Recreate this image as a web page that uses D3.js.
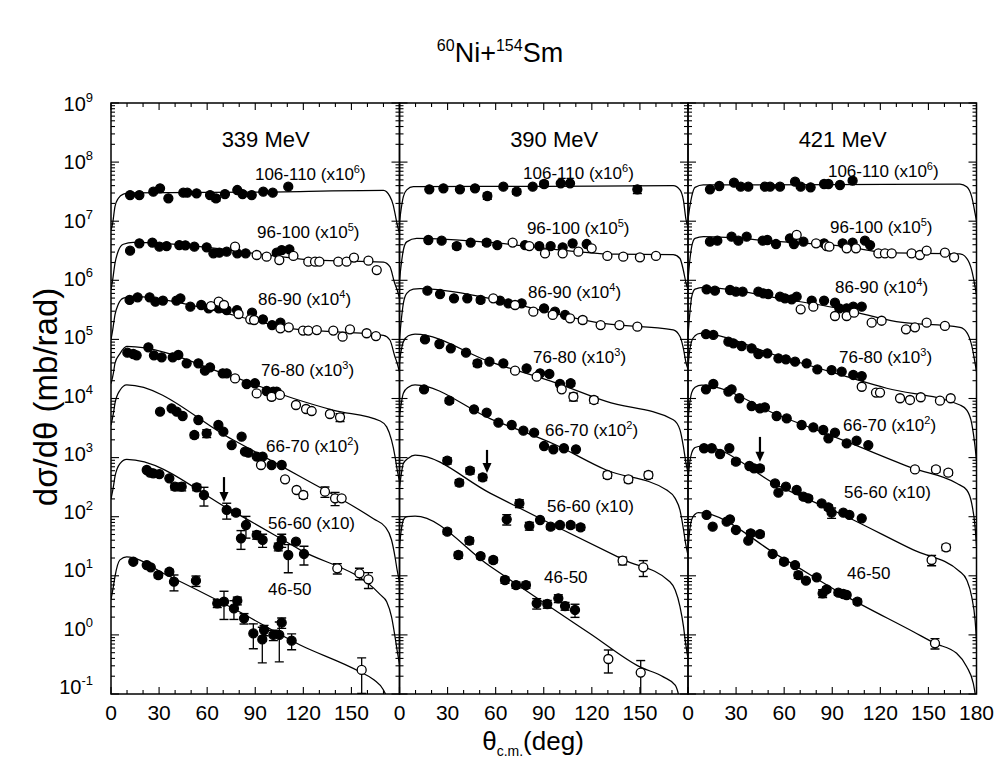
<!DOCTYPE html>
<html><head><meta charset="utf-8">
<script src="https://cdn.jsdelivr.net/npm/d3@7"></script>
<style>
body{margin:0;background:#fff;}
text{font-family:"Liberation Sans",Arial,Helvetica,sans-serif;fill:#000;}
</style></head><body>
<svg id="chart" width="995" height="762"></svg>
<script>
// ---------------- DATA ----------------
const energiesMeV = [339, 390, 421];
const windows = ["106-110","96-100","86-90","76-80","66-70","56-60","46-50"];
const factorExp = [6,5,4,3,2,1,0];
const xTickLabels = [0,30,60,90,120,150,180];
const yDecades = [-1,0,1,2,3,4,5,6,7,8,9];

// points: [theta_cm (deg), dsigma/dtheta (mb/rad, unscaled), relative error (optional)]
// ---- 339 MeV ----
const f339_106 = [[11.9,27.7],[17.7,27.7],[26.4,31.6],[30.6,36],[35.8,24.4],[45.1,30.4],[47.6,30.4],[53.4,29.6],[61.8,27.7],[65.5,24.4,.1],[71.1,28.8],[78.8,33.7],[82.1,28.8],[87.8,27.7],[95,31.6],[100.9,30.4],[110.6,38.4]];
const o339_106 = [];
const f339_96 = [[11.9,31.7],[17.7,42.3],[25.8,43.4],[30.2,37.1],[34.7,38],[42.6,39.5],[46.4,39.1],[52,37.1],[59.7,36.1],[63.9,28.6],[67.6,29.3],[72.2,30.5],[78.8,28.6],[84,28.6],[103.4,29.3],[106.5,32.5],[111.3,33.4]];
const o339_96 = [[77.4,37.1],[90.9,26.8],[97.1,25.1],[105,22],[113.8,25.8],[123.1,20.7],[127.3,20.7],[130,20.7],[141.8,20.7],[147,20.7],[151.6,24.2],[160.6,21.5],[165.8,14.9]];
const f339_86 = [[11.6,46.5],[16.6,51.5],[24.1,51.5],[27.7,43.4],[32.4,45.3],[40.8,45.3],[43.3,49.5],[49.5,35.8],[56.3,38.2],[60.9,33.6],[67.2,33.6],[72.2,31.4],[78.6,31.4],[88,28.3],[94.8,21.9],[100.5,17.5],[105.7,19.2]];
const o339_86 = [[62.4,36.7],[67.2,43.4],[70.5,38.2],[79.6,26.9],[86.9,21.9],[89.3,21.3],[105.7,15.4],[110.9,16],[119.8,14.1],[123.1,14.1],[128.4,14.4],[138.7,14.1],[144.5,11.1],[149.1,14.8],[159.5,12.7],[165.3,11.4]];
const f339_76 = [[10.2,59.6],[13.9,56.6],[16,53.7],[23.3,73.5],[26.8,53.7],[31.6,49.8],[38.5,49.8],[42,54.5],[47.2,39.4],[54.5,39.4],[58.6,29.6],[61.8,33.7],[69.7,26.7],[72.2,26.7],[84.6,17.6],[89.8,18.1],[97.1,13.4],[101.3,13.1],[103.4,13.1]];
const o339_76 = [[77.4,21.9],[90.9,12.2],[100.2,10.7,.1],[105.4,11.5],[115.4,7.76],[121.7,6.64],[125.2,6.14],[136.6,5.47],[142.9,4.80,.15]];
const f339_66 = [[30.6,59.8],[37.8,68.2],[41,59.8],[44.7,50.6],[52,24.1,.1],[54.5,43.3],[59.7,25.7,.15],[67,35.6],[70.1,27.5],[75.3,16.3],[81.5,22.6],[83.6,12.6],[85.7,12.1],[90.9,10.4],[94.6,10.4],[100.2,7.5],[106.5,7.5]];
const o339_66 = [[93.6,7.5],[108.6,4.29],[115.8,2.83],[120,2.33,.12],[133.5,2.65,.2],[139.8,2.05,.25],[143.9,2.05]];
const f339_56 = [[22.3,61.7],[24.3,55.6],[26.4,54.2],[30.2,52.7],[36.4,44.6],[39.9,32.2,.12],[44.1,32.2,.15],[53.5,31.4,.12],[58,23.3,.35],[72.2,13,.3],[78,11.7,.1],[84.2,7.23,.4],[81.1,4.31,.35],[90.9,4.9,.15],[94.6,4.04,.25],[104.4,3.11,.15],[106.5,4.04,.25],[110.6,2.25,.5],[115.4,3.78],[120.4,2.34,.35]];
const o339_56 = [[141.2,1.34,.2],[155,1.10,.22],[160.6,0.871,.3]];
const f339_46 = [[13.9,17.3],[22.3,15.2],[24.8,13.9],[29.5,10.3,.1],[36.4,11.7,.1],[39.3,7.94,.3],[53,8.26,.2],[66.3,3.42,.15],[70.5,3.65,.5],[76.7,2.81,.35],[78.8,3.79,.15],[83,1.91,.2],[88.8,1.06,.45],[94.4,0.84,.6],[95.5,1.21,.2],[101.3,1.0,.2],[105,1.0,.65],[106.5,1.61,.2],[112.7,0.80,.3]];
const o339_46 = [[156.4,0.255,.6]];
// ---- 390 MeV ----
const f390_106 = [[18.6,34.6],[27.4,36],[37.7,34.6],[47.1,36],[54.8,26.7,.12],[64.8,38.4],[73.1,31.6,.1],[83.1,38.4],[90.2,42.6,.1],[100.6,43.8],[106.4,43.8],[148.4,34.6,.15]];
const o390_106 = [];
const f390_96 = [[18,48.1],[26.3,46.9],[35.7,38,.1],[44.4,43.4],[54.4,43.4,.1],[61,39.5],[78.3,39.5],[87.2,38],[94.3,38],[101.8,36.1],[108,42.3],[116.8,41.1]];
const o390_96 = [[70.6,43.4],[81,38],[90.8,28.6],[101.8,28.6],[111.6,30.5],[119.9,34.8],[129.7,25.8],[139.6,25.1],[150,24.5],[160,25.8]];
const f390_86 = [[17.4,66.8],[25.3,58.6],[34,49.5],[42.3,49.5],[50.6,46.5,.1],[62.7,45.3],[67.9,40.7],[76.2,40.7],[90.2,33.6],[97,29.4],[103.3,25.9]];
const o390_86 = [[58.5,49.5],[72.1,38.2],[83.5,29.4],[95.6,25.9],[106.4,22.7],[114.3,21.3,.1],[125.5,17.5],[137.2,17.5],[148.4,16.4]];
const f390_76 = [[15.9,100],[24.9,83.6],[32,70.6],[41.5,59.6],[48.6,39.4,.12],[56.1,42],[64.8,39.4],[79.3,32.4],[87.7,26.7],[93.5,26],[100.1,17.6],[106.8,18.1,.1]];
const o390_76 = [[72.1,29.6],[85.6,23.4],[101.2,14.3],[108.5,10.7,.15],[121.3,9.44,.12]];
const f390_66 = [[15.3,143],[31.1,91.8,.1],[46.5,65.6],[54.4,57.5],[61.7,39],[70,35.6],[77.3,28.6],[84,26.4],[90.2,15.7],[96,13.8],[102.6,14.4],[110.1,13.8]];
const o390_66 = [[129.7,5.08,.12],[142.8,4.29,.12],[155.3,5.08,.12]];
const f390_56 = [[29.8,88.7,.12],[37.3,37.7,.12],[44,60.1,.12],[51.9,46.3,.12],[74.8,16.8,.15],[66.9,9.02,.2],[81,6.97,.15],[87.7,8.79],[94.3,6.78,.1],[100.1,7.23,.1],[106.8,7.23,.1],[113,6.61,.1]];
const o390_56 = [[139.2,1.80,.15],[152.1,1.39,.3]];
const f390_46 = [[29.8,55.8,.1],[36.7,22.5,.12],[43.6,39.3,.12],[50.6,21.6,.1],[58.5,18.5,.1],[65.8,8.49,.12],[72.7,6.98,.12],[78.9,6.98,.12],[85.6,3.42,.2],[92.2,3.33,.15],[99.1,4.15,.15],[103.3,3.08,.15],[109.5,2.64,.25]];
const o390_46 = [[130.3,0.391,.42],[150.5,0.230,.6]];
// ---- 421 MeV ----
const f421_106 = [[13.7,34.6],[19.5,39.4],[28.7,44.9],[32.9,38.4],[37.6,38.4],[48,38.4],[51.2,38.4],[57.4,38.4],[66.8,46.7],[70.3,38.4],[76.5,37.4],[84.9,42.6],[87.6,42.6],[94.8,41],[102.7,48.5]];
const o421_106 = [];
const f421_96 = [[13.7,45.1],[18.3,46.9],[27.2,54.7],[31.4,46.9],[36.6,54.7],[46.6,46.9],[49.5,48.1],[54.9,41.1],[63.6,51.3],[66.1,41.1],[72,45.1],[84.9,42.3],[96.5,42.3],[102.7,43.4],[110.4,46.9],[113.6,39.5]];
const o421_96 = [[67.8,58.5],[79.9,42.3],[86.5,38],[88.2,37.1],[99,34.8],[104.8,34.8],[118.8,28.6],[122.9,28.6],[127.1,28.6],[139.5,28.6],[144.7,26.8],[148.9,31.7],[160.3,29.3],[166,24.5]];
const f421_86 = [[11.6,70.3],[16.8,66.8],[26.2,68.5],[29.9,64.3],[34.1,64.3],[43.9,64.3],[47,60.1],[50.1,58.6],[57.4,52.8],[60.5,49.5],[64.7,47.6],[67.8,52.8],[77.2,45.3],[84.9,45.3],[91.7,41.9],[94.4,33.6],[99,33.6],[103.1,35.8],[108.4,35.8]];
const o421_86 = [[70.3,32.3],[78.2,35.8],[91.7,24.9],[99,24.9],[103.6,28.3],[114.6,19.2],[120.8,20.7],[136,14.8],[141.6,16],[148.9,19.2],[160.3,16.9]];
const f421_76 = [[11.2,123],[15.8,119],[25.2,91.6],[28.3,85.7],[33.5,77.3],[39.7,70.6],[43.9,56.6],[49.5,58.1],[56.4,47.9],[61.1,46],[66.8,42],[74,39.4],[80.7,31.1],[89.6,30.3],[95.9,28.4],[103.1,25],[108.4,24]];
const o421_76 = [[108.4,15.8],[117.3,12.6],[119.8,12.6],[132.3,10.1],[138.5,9.44],[145.2,10.5],[157.2,9.18],[163.9,10.1]];
const f421_66 = [[11.2,143],[15.8,176],[25.2,131],[27.2,143],[32,101],[39.7,74.6],[44.9,68.2],[48,70.8],[55.3,50.6],[61.6,46.1],[70.9,35.6],[78.2,32.5],[84.4,29.3],[87.6,21.2],[91.7,26.4],[99,17.4],[105.2,19.3],[112.5,16.3]];
const o421_66 = [[141.6,6.32],[154.7,6.32,.1],[162.4,5.56,.1]];
const f421_56 = [[10,144],[14.8,144],[20,115],[25.8,144],[29.9,85.3,.1],[38.3,72.1],[41.2,65.8],[44.9,65.8,.1],[54.3,36.6],[61.1,32.2],[56.4,25.5],[67.8,28.3],[72,21.8,.1],[75.1,20.5,.1],[83.4,16.8],[87.6,14.4,.1],[89.6,11.7,.2],[96.9,11.7],[100.7,10.7],[108.4,9.38]];
const o421_56 = [[152,1.85,.2],[161,3.03,.12]];
const f421_46 = [[11.6,107],[15.4,67.8],[24.1,82.4],[26.2,90.2],[29.9,59.6],[37.6,39.3],[39.1,52.4,.1],[44.9,50.9,.1],[52.8,23.4],[59.9,17.3,.1],[66.8,15.2],[68.8,10.3,.12],[73.6,8.28],[80.3,9.42],[84,5.05,.15],[86.5,5.9,.1],[93.8,5.19,.1],[96.9,4.92,.1],[99,4.73],[105.7,3.65,.1]];
const o421_46 = [[154.1,0.72,.2]];

// theoretical curves: [theta_cm, dsigma/dtheta (unscaled)]
const fit339_106 = [[0,7.08],[1,9.12],[2.5,17.8],[4.6,24.5],[7.7,28.8],[12,30.2],[90,30.9],[170,33.1],[174,26.3],[176,19.1],[177.5,12.3],[178.5,8.91],[180,6.31]];
const fit339_96 = [[0,7.08],[1,10],[2.5,19.5],[4.6,31.6],[7.7,40.7],[13.9,43.7],[55.5,37.2],[97,26.9],[128,21.9],[170,20.4],[174,17.0],[177,8.91],[178.5,6.92],[180,5.01]];
const fit339_86 = [[0,10],[1,14.1],[2.5,26.3],[4.6,39.8],[7.7,50.1],[13.9,53.7],[55,35.5],[97,18.6],[110,15.5],[139,13.5],[170,11.7],[174,9.77],[177,5.25],[178.5,3.98],[180,2.82]];
const fit339_76 = [[0,17.8],[1.5,26.9],[2.5,39.8],[5.6,57.5],[9.8,75.9],[76,23.4],[114,10],[139,6.31],[168,4.17],[172,3.31],[175,2.0],[177.2,1.05],[178.5,0.631],[180,0.398]];
const fit339_66 = [[0,35.5],[1.5,56.2],[2.5,83.2],[5.6,138],[9.8,170],[76,20.0],[118,4.79],[164,0.912],[171,0.676],[175,0.407],[177.2,0.209],[178.5,0.126],[180,0.079]];
const fit339_56 = [[0,20.0],[1.5,32.4],[2.5,47.9],[5.6,79.4],[9.8,93.3],[76,12.3],[118,2.75],[168,0.479],[172,0.363],[175,0.204],[177.2,0.0933],[178.5,0.055],[180,0.0316]];
const fit339_46 = [[0,3.98],[1.5,6.61],[2.5,9.77],[5.6,18.6],[9.8,20.9],[35,10.2],[76,2.82],[118,0.676],[155,0.24],[164,0.174],[170,0.117],[172,0.0891],[175,0.0398]];
const fit390_106 = [[0,9.77],[1,15.8],[2.4,26.0],[4.5,33.9],[8.6,38.4],[90,38.9],[170.8,39.8],[175,33.9],[177.1,22.9],[178.8,10.5],[180,7.94]];
const fit390_96 = [[0,10],[1,17.8],[2.4,32.4],[4.5,44.7],[10.7,51.3],[56.5,43.7],[98,33.1],[135,27.6],[170.8,27.2],[175,23.4],[177.1,14.8],[178.8,8.91],[180,7.08]];
const fit390_86 = [[0,10.5],[1,20.0],[2.4,40.7],[4.5,60.3],[8.6,70.8],[12.8,72.4],[56.5,49.5],[98,26.9],[127,18.6],[170.8,14.5],[175,11.2],[177.1,7.08],[178.8,3.98],[180,3.16]];
const fit390_76 = [[0,41.7],[1,63.1],[2.4,91.2],[5.5,115],[9.7,123],[56.5,41.7],[98,18.2],[129,8.91],[170.8,4.37],[175,2.95],[177.1,1.55],[178.8,0.794],[180,0.562]];
const fit390_66 = [[0,50.1],[1,79.4],[2.4,123],[5.5,155],[9.7,170],[56.5,45.7],[98,16.2],[129,6.17],[166.7,2.82],[172,2.04],[175,1.29],[177.2,0.603],[178.5,0.355],[180,0.224]];
const fit390_56 = [[0,31.6],[1,50.1],[2.4,79.4],[5.5,97.7],[9.7,110],[56.5,25.1],[98,6.76],[140,1.86],[168.7,0.794],[172,0.575],[175,0.302],[177.2,0.138],[178.5,0.0724],[180,0.0398]];
const fit390_46 = [[0,31.6],[1,56.2],[2.5,89.1],[4.5,100],[9.7,102],[56.5,14.5],[98,2.51],[119,1.05],[150,0.288],[164.6,0.195],[172,0.141],[174,0.1],[176,0.05]];
const fit421_106 = [[0,10.5],[1,16.6],[2.3,26.0],[4.4,37.4],[9.6,41.0],[90,41.7],[169.7,42.6],[173.9,38.4],[177,26.0],[179.1,13.6],[180,10]];
const fit421_96 = [[0,10],[1,20.0],[2.3,37.2],[4.4,51.3],[9.6,54.7],[57.4,45.1],[99,37.1],[124,29.3],[169.7,27.9],[173.9,23.6],[177,14.9],[179.1,7.80],[180,5.62]];
const fit421_86 = [[0,11.2],[1,25.1],[2.3,52.5],[4.4,70.8],[9.6,75.9],[57.4,49.5],[99,31.4],[130,20.0],[169.7,16.0],[173.9,13.2],[177,7.94],[179.1,3.98],[180,2.82]];
const fit421_76 = [[0,34.7],[1,63.1],[2.3,93.3],[4.4,115],[7.5,126],[57.4,51.1],[99,23.4],[124,14.9],[169.7,7.76],[173.9,6.38],[177,3.80],[179.1,1.53],[180,0.891]];
const fit421_66 = [[0,41.7],[1,79.4],[2.3,126],[4.4,155],[8.5,169],[57.4,50.6],[99,18.6],[140.6,6.58],[167.6,3.67],[173.9,2.83],[177,1.68],[179.1,0.678],[180,0.316]];
const fit421_56 = [[0,39.8],[1,79.4],[2.3,120],[4.4,148],[8.5,157],[57.4,32.2],[99,10],[140.6,2.74],[169.7,1.17],[173.9,0.849],[177,0.444],[179.1,0.179],[180,0.0813]];
const fit421_46 = [[0,28.2],[1,56.2],[2.3,89.1],[4.4,110],[6.5,117],[57.4,21.1],[99,4.44],[140.6,1.13],[154.1,0.719],[167.6,0.488],[173.9,0.29],[178,0.151],[179.5,0.0891]];

// arrows (theta, from, to) in plotted units, one per energy (56-60 window)
const arrowMarks = [[70.5,468,178],[54.6,1349,550],[44.9,2239,851]];
// label anchors [theta, log10(plotted value)] per energy, per window
const labelAnchor = [
 [[89.8,7.697],[91.1,6.716],[91.7,5.582],[93.6,4.381],[96.7,3.095],[98.0,1.792],[98.0,0.670]],
 [[77.1,7.714],[79.5,6.783],[80.2,5.701],[83.3,4.601],[90.8,3.365],[92.0,2.079],[90.2,0.878]],
 [[87.3,7.748],[88.6,6.80],[91.7,5.785],[94.2,4.601],[96.7,3.45],[97.3,2.316],[99.2,0.946]]
];

// ---------------- TABLE ----------------
const fillTable = [
 [f339_106,f339_96,f339_86,f339_76,f339_66,f339_56,f339_46],
 [f390_106,f390_96,f390_86,f390_76,f390_66,f390_56,f390_46],
 [f421_106,f421_96,f421_86,f421_76,f421_66,f421_56,f421_46]];
const openTable = [
 [o339_106,o339_96,o339_86,o339_76,o339_66,o339_56,o339_46],
 [o390_106,o390_96,o390_86,o390_76,o390_66,o390_56,o390_46],
 [o421_106,o421_96,o421_86,o421_76,o421_66,o421_56,o421_46]];
const fitTable = [
 [fit339_106,fit339_96,fit339_86,fit339_76,fit339_66,fit339_56,fit339_46],
 [fit390_106,fit390_96,fit390_86,fit390_76,fit390_66,fit390_56,fit390_46],
 [fit421_106,fit421_96,fit421_86,fit421_76,fit421_66,fit421_56,fit421_46]];

// ---------------- LAYOUT ----------------
const W = 995, H = 762;
const PX0 = 111, PW = 288.5, TOP = 103, BOT = 694;
const svg = d3.select("#chart");
svg.append("rect").attr("width", W).attr("height", H).attr("fill", "#fff");

const xs = energiesMeV.map((e, i) => d3.scaleLinear().domain([0, 180]).range([PX0 + i * PW, PX0 + (i + 1) * PW]));
const y = d3.scaleLog().domain([1e-1, 1e9]).range([BOT, TOP]);
const yLab = d3.scaleLog().domain([1e-1, 1e9]).range([BOT - 7, TOP + 1]);

const minorY = [];
yDecades.slice(0, -1).forEach(e => { for (let m = 2; m <= 9; m++) minorY.push(m * Math.pow(10, e)); });
const majorY = yDecades.map(e => Math.pow(10, e));

energiesMeV.forEach((E, i) => {
  const x = xs[i];
  const g = svg.append("g");
  const cid = "clip" + i;
  svg.append("clipPath").attr("id", cid).append("rect")
    .attr("x", x(0)).attr("y", TOP).attr("width", PW).attr("height", BOT - TOP);
  const plot = g.append("g").attr("clip-path", `url(#${cid})`);

  windows.forEach((w, j) => {
    const f = Math.pow(10, factorExp[j]);
    const line = d3.line().x(d => x(d[0])).y(d => y(d[1] * f)).curve(d3.curveMonotoneX);
    plot.append("path").datum(fitTable[i][j]).attr("d", line)
      .attr("fill", "none").attr("stroke", "#000").attr("stroke-width", 1.25);

    const pts = fillTable[i][j].map(d => ({d, open: false})).concat(openTable[i][j].map(d => ({d, open: true})));
    pts.filter(p => p.d[2]).forEach(p => {
      const [t, v, e] = p.d;
      const cx = x(t);
      const yh = y(v * f * (1 + e)), yl = y(Math.max(v * f * (1 - e), 1e-2));
      plot.append("line").attr("x1", cx).attr("x2", cx).attr("y1", yh).attr("y2", yl)
        .attr("stroke", "#000").attr("stroke-width", 1.3);
      [yh, yl].forEach(yy => plot.append("line").attr("x1", cx - 4.5).attr("x2", cx + 4.5)
        .attr("y1", yy).attr("y2", yy).attr("stroke", "#000").attr("stroke-width", 1.4));
    });
    plot.selectAll(null).data(pts).enter().append("circle")
      .attr("cx", p => x(p.d[0])).attr("cy", p => y(p.d[1] * f)).attr("r", 4.5)
      .attr("fill", p => p.open ? "#fff" : "#000").attr("stroke", "#000").attr("stroke-width", 1.3);

    const [lt, lv] = labelAnchor[i][j];
    const txt = g.append("text").attr("x", x(lt)).attr("y", y(Math.pow(10, lv))).attr("font-size", 17);
    txt.append("tspan").text(w);
    if (factorExp[j] >= 1) {
      txt.append("tspan").text(" (x10");
      if (factorExp[j] > 1) {
        txt.append("tspan").attr("font-size", 11).attr("dy", -7).text(factorExp[j]);
        txt.append("tspan").attr("dy", 7).text(")");
      } else {
        txt.append("tspan").text(")");
      }
    }
  });

  const [at, a0, a1] = arrowMarks[i];
  const ax = x(at), ay0 = y(a0), ay1 = y(a1);
  g.append("line").attr("x1", ax).attr("x2", ax).attr("y1", ay0).attr("y2", ay1 - 8)
    .attr("stroke", "#000").attr("stroke-width", 2.2);
  g.append("path").attr("d", `M${ax - 4.5},${ay1 - 10}L${ax + 4.5},${ay1 - 10}L${ax},${ay1}Z`).attr("fill", "#000");

  g.append("text").attr("x", x(96.5)).attr("y", 147).attr("text-anchor", "middle")
    .attr("font-size", 22).text(E + " MeV");

  g.append("rect").attr("x", x(0)).attr("y", TOP).attr("width", PW).attr("height", BOT - TOP)
    .attr("fill", "none").attr("stroke", "#000").attr("stroke-width", 1.5);
  const tk = g.append("g").attr("stroke", "#000").attr("stroke-width", 1.1);
  d3.range(0, 181, 10).forEach(t => {
    const L = t % 30 === 0 ? 7 : 4;
    tk.append("line").attr("x1", x(t)).attr("x2", x(t)).attr("y1", BOT).attr("y2", BOT - L);
    tk.append("line").attr("x1", x(t)).attr("x2", x(t)).attr("y1", TOP).attr("y2", TOP + L);
  });
  [[majorY, 8], [minorY, 4]].forEach(([vals, L]) => vals.forEach(v => {
    tk.append("line").attr("x1", x(0)).attr("x2", x(0) + L).attr("y1", y(v)).attr("y2", y(v));
    tk.append("line").attr("x1", x(180)).attr("x2", x(180) - L).attr("y1", y(v)).attr("y2", y(v));
  }));

  xTickLabels.filter(t => t < 180 || i === energiesMeV.length - 1).forEach(t => {
    g.append("text").attr("x", x(t)).attr("y", 720).attr("text-anchor", "middle")
      .attr("font-size", 21).text(t);
  });
});

yDecades.forEach(e => {
  const t = svg.append("text").attr("x", 93).attr("y", yLab(Math.pow(10, e)) + 7).attr("text-anchor", "end").attr("font-size", 20);
  t.append("tspan").text("10");
  t.append("tspan").attr("font-size", 13).attr("dy", -9).text(e);
});

svg.append("text").attr("transform", "translate(57,397) rotate(-90)")
  .attr("text-anchor", "middle").attr("font-size", 33).text("dσ/dθ (mb/rad)");
const xt = svg.append("text").attr("x", 533).attr("y", 750).attr("text-anchor", "middle").attr("font-size", 26);
xt.append("tspan").text("θ");
xt.append("tspan").attr("font-size", 14).attr("dy", 6).text("c.m.");
xt.append("tspan").attr("dy", -6).text("(deg)");

const tt = svg.append("text").attr("x", 500).attr("y", 62).attr("text-anchor", "middle").attr("font-size", 27);
tt.append("tspan").attr("font-size", 16).attr("dy", -11).text("60");
tt.append("tspan").attr("dy", 11).text("Ni+");
tt.append("tspan").attr("font-size", 16).attr("dy", -11).text("154");
tt.append("tspan").attr("dy", 11).text("Sm");
</script>
</body></html>
